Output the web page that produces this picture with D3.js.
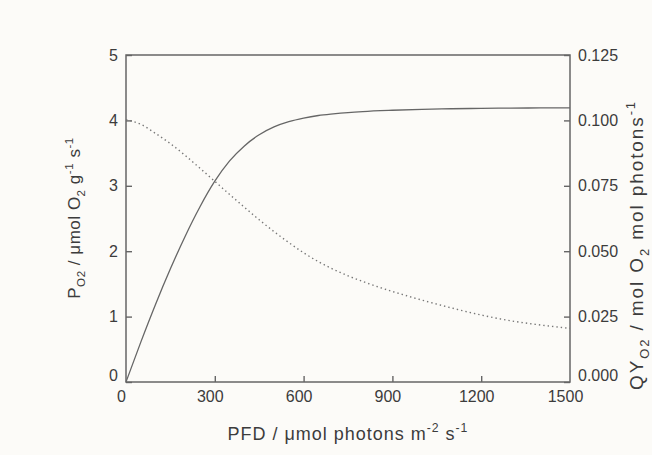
<!DOCTYPE html>
<html><head><meta charset="utf-8">
<script src="https://cdn.jsdelivr.net/npm/d3@7"></script>
<style>
html,body{margin:0;padding:0;background:#fcfbf8;}
svg{display:block;}
text{font-family:"Liberation Sans",Arial,Helvetica,sans-serif;fill:#3c3c3c;}
</style></head>
<body>
<svg id="chart" width="652" height="455"></svg>
<script>
// Data
const pfd  = [0, 50, 100, 150, 200, 250, 300, 350, 400, 450, 500, 550, 600, 650, 700, 750, 800, 900, 1000, 1100, 1200, 1300, 1400, 1500];
const pO2  = [0, 0.61, 1.19, 1.73, 2.23, 2.68, 3.07, 3.38, 3.61, 3.78, 3.90, 3.98, 4.035, 4.075, 4.10, 4.12, 4.135, 4.155, 4.17, 4.178, 4.184, 4.188, 4.19, 4.19];
const qyO2 = [0.1003, 0.0985, 0.0950, 0.0911, 0.0866, 0.0817, 0.0767, 0.0717, 0.0668, 0.0620, 0.0575, 0.0533, 0.0494, 0.0460, 0.0431, 0.0406, 0.0384, 0.0346, 0.0313, 0.0283, 0.0256, 0.0234, 0.0218, 0.0205];
const xTicks = [0, 300, 600, 900, 1200, 1500];
const yLeftTicks = [0, 1, 2, 3, 4, 5];
const yRightTicks = [0, 0.025, 0.05, 0.075, 0.1, 0.125];

const svg = d3.select("#chart");
const m = {left: 126, right: 570, top: 55, bottom: 382};
const x = d3.scaleLinear().domain([0, 1500]).range([m.left, m.right]);
const yL = d3.scaleLinear().domain([0, 5]).range([m.bottom, m.top]);
const yR = d3.scaleLinear().domain([0, 0.125]).range([m.bottom, m.top]);
const axisColor = "#666";

// Axes
const gx = svg.append("g").attr("transform", `translate(0,${m.bottom})`)
  .call(d3.axisBottom(x).tickValues(xTicks).tickFormat(d3.format("d")).tickSize(-6).tickPadding(9));
const gl = svg.append("g").attr("transform", `translate(${m.left},0)`)
  .call(d3.axisLeft(yL).tickValues(yLeftTicks).tickFormat(d3.format("d")).tickSize(-6).tickPadding(8));
const gr = svg.append("g").attr("transform", `translate(${m.right},0)`)
  .call(d3.axisRight(yR).tickValues(yRightTicks).tickFormat(d3.format(".3f")).tickSize(-6).tickPadding(8));
[gx, gl, gr].forEach(g => {
  g.select(".domain").remove();
  g.selectAll(".tick line").attr("stroke", axisColor).attr("stroke-width", 1.4);
  g.selectAll(".tick text").attr("font-size", 16).attr("fill", "#3c3c3c")
    .style("font-family", '"Liberation Sans",Arial,sans-serif');
});
gx.selectAll(".tick text").attr("dx", -5);
gl.selectAll(".tick text").filter(d => d === 0).attr("dy", "-0.12em");
gr.selectAll(".tick text").filter(d => d === 0).attr("dy", "-0.12em");
gx.selectAll(".tick").filter(d => d === 0 || d === 1500).select("line").remove();

// Frame
svg.append("rect").attr("x", m.left).attr("y", m.top)
  .attr("width", m.right - m.left).attr("height", m.bottom - m.top)
  .attr("fill", "none").attr("stroke", axisColor).attr("stroke-width", 1.5);

// Curves
const lineP = d3.line().x((d, i) => x(pfd[i])).y(d => yL(d)).curve(d3.curveMonotoneX);
const lineQ = d3.line().x((d, i) => x(pfd[i])).y(d => yR(d)).curve(d3.curveMonotoneX);
svg.append("path").attr("d", lineP(pO2)).attr("fill", "none")
  .attr("stroke", "#666").attr("stroke-width", 1.3);
svg.append("path").attr("d", lineQ(qyO2)).attr("fill", "none")
  .attr("stroke", "#777").attr("stroke-width", 1.4).attr("stroke-dasharray", "1.4,3");

// Titles
function rich(t, parts, fs) {
  t.attr("font-size", fs);
  parts.forEach(p => {
    const s = t.append("tspan").text(p.t);
    if (p.sub) s.attr("font-size", fs * 0.68).attr("dy", fs * 0.3);
    else if (p.sup) s.attr("font-size", fs * 0.68).attr("dy", -fs * 0.42);
    else s.attr("font-size", fs);
    if (p.back) s.attr("dy", p.back);
  });
}
function fit(t, target) {
  const w = t.node().getBBox().width;
  const n = t.text().length;
  if (n > 1) t.style("letter-spacing", ((target - w) / (n - 1)) + "px");
}
// X title
const fx = 18;
const tx = svg.append("text").attr("x", 348).attr("y", 440).attr("text-anchor", "middle");
rich(tx, [
  {t: "PFD / \u03bcmol photons m"}, {t: "-2", sup: true}, {t: " s", back: fx * 0.42}, {t: "-1", sup: true}
], fx);
fit(tx, 240);

// Left title
const fl = 17;
const tl = svg.append("text").attr("transform", `translate(80,218) rotate(-90)`).attr("text-anchor", "middle");
rich(tl, [
  {t: "P"}, {t: "O2", sub: true}, {t: " / \u03bcmol O", back: -fl * 0.3}, {t: "2", sub: true},
  {t: " g", back: -fl * 0.3}, {t: "-1", sup: true}, {t: " s", back: fl * 0.42}, {t: "-1", sup: true}
], fl);
fit(tl, 161);

// Right title
const fr = 19;
const trt = svg.append("text").attr("transform", `translate(643,245) rotate(-90)`).attr("text-anchor", "middle");
rich(trt, [
  {t: "QY"}, {t: "O2", sub: true}, {t: " / mol O", back: -fr * 0.3}, {t: "2", sub: true},
  {t: " mol photons", back: -fr * 0.3}, {t: "-1", sup: true}
], fr);
fit(trt, 288);
</script>
</body></html>
